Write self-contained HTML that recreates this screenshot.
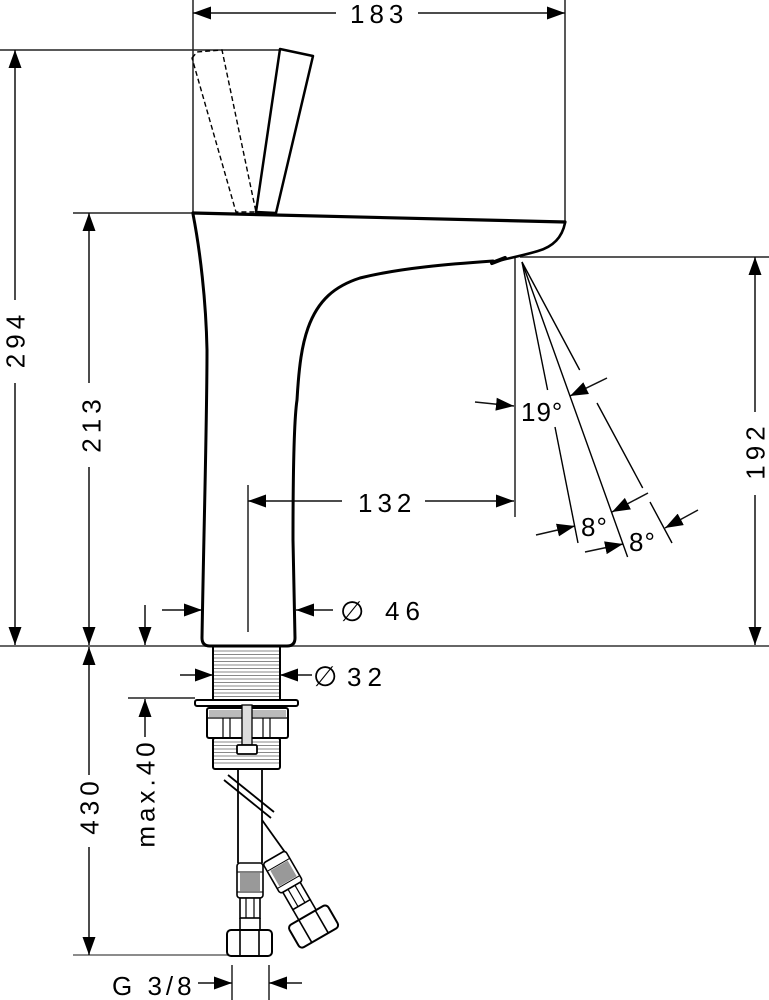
<!DOCTYPE html>
<html><head><meta charset="utf-8"><style>
html,body{margin:0;padding:0;background:#fff;}
svg{display:block;}
text{font-family:"Liberation Sans",sans-serif;font-size:26px;fill:#000;}
</style></head><body>
<svg width="769" height="1000" viewBox="0 0 769 1000" xmlns="http://www.w3.org/2000/svg">
<defs>
<marker id="a" markerWidth="19" markerHeight="14" refX="18" refY="6.5" orient="auto" markerUnits="userSpaceOnUse">
<path d="M0,0 L18,6.5 L0,13 z" fill="#000"/>
</marker>
</defs>

<!-- extension lines -->
<g stroke="#222" stroke-width="1.5" fill="none">
<line x1="193" y1="0" x2="193" y2="213"/>
<line x1="565" y1="0" x2="565" y2="222"/>
<line x1="0" y1="50" x2="282" y2="50"/>
<line x1="73" y1="213" x2="193" y2="213"/>
<line x1="520" y1="257" x2="769" y2="257"/>
<line x1="515" y1="258" x2="515" y2="517"/>
<line x1="128" y1="698" x2="195" y2="698"/>
<line x1="73" y1="955" x2="228" y2="955" stroke="#666"/>
<line x1="232" y1="965" x2="232" y2="1000"/>
<line x1="269" y1="965" x2="269" y2="1000"/>
<line x1="248" y1="485" x2="248" y2="632"/>
</g>
<line x1="0" y1="646" x2="769" y2="646" stroke="#666" stroke-width="2"/>

<!-- dimension lines -->
<g stroke="#111" stroke-width="1.5" fill="none" marker-end="url(#a)">
<line x1="336" y1="13" x2="193" y2="13"/>
<line x1="418" y1="13" x2="565" y2="13"/>
<line x1="15" y1="300" x2="15" y2="50"/>
<line x1="15" y1="383" x2="15" y2="645"/>
<line x1="89" y1="383" x2="89" y2="213"/>
<line x1="89" y1="467" x2="89" y2="645"/>
<line x1="89" y1="775" x2="89" y2="647"/>
<line x1="89" y1="847" x2="89" y2="955"/>
<line x1="755" y1="412" x2="755" y2="257"/>
<line x1="755" y1="495" x2="755" y2="645"/>
<line x1="145" y1="737" x2="145" y2="699"/>
<line x1="145" y1="605" x2="145" y2="645"/>
<line x1="162" y1="610" x2="202" y2="610"/>
<line x1="333" y1="610" x2="296" y2="610"/>
<line x1="180" y1="675" x2="213" y2="675"/>
<line x1="312" y1="675" x2="280" y2="675"/>
<line x1="342" y1="501" x2="248" y2="501"/>
<line x1="425" y1="501" x2="514" y2="501"/>
<line x1="198" y1="983" x2="232" y2="983"/>
<line x1="302" y1="983" x2="269" y2="983"/>
<line x1="475" y1="402" x2="514" y2="406"/>
<line x1="607" y1="378" x2="570" y2="396"/>
<line x1="536" y1="535" x2="575" y2="526"/>
<line x1="648" y1="493" x2="612" y2="512"/>
<line x1="585" y1="552" x2="623" y2="544"/>
<line x1="698" y1="510" x2="665" y2="528"/>
</g>

<!-- spray lines -->
<g stroke="#000" stroke-width="1.4" fill="none">
<line x1="522" y1="262" x2="547.6" y2="390"/>
<line x1="555" y1="427" x2="578" y2="543"/>
<line x1="522" y1="262" x2="627.6" y2="557"/>
<line x1="522" y1="262" x2="579.7" y2="370"/>
<line x1="597" y1="403" x2="642.7" y2="488"/>
<line x1="650" y1="502" x2="672" y2="543"/>
</g>

<!-- lever -->
<polygon points="192,58 197,52 222,50 256,212 236,212" fill="none" stroke="#000" stroke-width="1.4" stroke-dasharray="5,3"/>
<polygon points="280,49 313,56 276,213 256,212" fill="#fff" stroke="#000" stroke-width="2.5" stroke-linejoin="round"/>

<!-- body -->
<g stroke="#000" fill="none" stroke-linecap="round" stroke-linejoin="round">
<path d="M193,213 L565,222" stroke-width="3.2"/>
<path d="M565,223 C562,238 552,247 538,251 C525,255 510,258 493,262" stroke-width="2.6"/>
<path d="M193,214 C200,250 206,300 207,350 C207,420 204,520 202,638 Q202,646 210,646 L287,646 Q295,646 295,638 L293,540 C293,470 294,420 297,400 C299,365 302,345 308,328 C318,300 335,286 360,278 C400,268 450,264 493,261" stroke-width="3"/>
<path d="M492,263 L505,258" stroke-width="4"/>
</g>

<!-- shank with thread -->
<g stroke="#888" stroke-width="1">
<line x1="214" y1="651" x2="279" y2="651"/><line x1="214" y1="654.5" x2="279" y2="654.5"/>
<line x1="214" y1="658" x2="279" y2="658"/><line x1="214" y1="661.5" x2="279" y2="661.5"/>
<line x1="214" y1="665" x2="279" y2="665"/><line x1="214" y1="668.5" x2="279" y2="668.5"/>
<line x1="214" y1="672" x2="279" y2="672"/><line x1="214" y1="675.5" x2="279" y2="675.5"/>
<line x1="214" y1="679" x2="279" y2="679"/><line x1="214" y1="682.5" x2="279" y2="682.5"/>
<line x1="214" y1="686" x2="279" y2="686"/><line x1="214" y1="689.5" x2="279" y2="689.5"/>
<line x1="214" y1="693" x2="279" y2="693"/><line x1="214" y1="696.5" x2="279" y2="696.5"/>
<line x1="214" y1="742" x2="279" y2="742"/><line x1="214" y1="745.5" x2="279" y2="745.5"/>
<line x1="214" y1="749" x2="279" y2="749"/><line x1="214" y1="752.5" x2="279" y2="752.5"/>
<line x1="214" y1="756" x2="279" y2="756"/><line x1="214" y1="759.5" x2="279" y2="759.5"/>
<line x1="214" y1="763" x2="279" y2="763"/>
</g>
<g stroke="#000" stroke-width="2" fill="none">
<line x1="213" y1="647" x2="213" y2="700"/>
<line x1="280" y1="647" x2="280" y2="700"/>
<rect x="213" y="738" width="67" height="31" rx="2"/>
</g>
<rect x="195" y="700" width="103" height="6" rx="2" fill="#fff" stroke="#000" stroke-width="2"/>
<rect x="207" y="708" width="81" height="30" rx="2" fill="#fff" stroke="#000" stroke-width="2"/>
<rect x="209" y="710" width="77" height="7" fill="#bbb"/>
<g stroke="#000" stroke-width="1.2">
<line x1="207" y1="718" x2="288" y2="718"/>
<line x1="223" y1="718" x2="223" y2="738"/><line x1="230" y1="718" x2="230" y2="738"/>
<line x1="263" y1="718" x2="263" y2="738"/><line x1="270" y1="718" x2="270" y2="738"/>
</g>
<rect x="242" y="705" width="10" height="40" fill="#ddd" stroke="#000" stroke-width="1.3"/>
<rect x="237" y="745" width="20" height="9" rx="1.5" fill="#fff" stroke="#000" stroke-width="1.8"/>

<!-- hoses -->
<g stroke="#000" stroke-width="1.8" fill="none">
<line x1="238" y1="769" x2="238" y2="863"/>
<line x1="262" y1="769" x2="262" y2="863"/>
<line x1="224" y1="780" x2="271" y2="818"/>
<line x1="228" y1="775" x2="274" y2="812"/>
<line x1="262" y1="820" x2="287" y2="855"/>
</g>

<!-- left fitting -->
<g transform="translate(250,863)" stroke="#000" fill="#fff">
<rect x="-13" y="0" width="26" height="35" rx="3" stroke-width="1.6"/>
<rect x="-10" y="10" width="20" height="18" fill="#999" stroke="none"/>
<line x1="-13" y1="9" x2="13" y2="9" stroke-width="1"/>
<line x1="-13" y1="29" x2="13" y2="29" stroke-width="1"/>
<rect x="-10" y="35" width="20" height="20" stroke-width="1.6"/>
<line x1="-4" y1="35" x2="-4" y2="55" stroke-width="1.2"/>
<line x1="4" y1="35" x2="4" y2="55" stroke-width="1.2"/>
<line x1="-10" y1="55" x2="-10" y2="67" stroke-width="1.6"/>
<line x1="10" y1="55" x2="10" y2="67" stroke-width="1.6"/>
<rect x="-23" y="67" width="45" height="26" rx="4" stroke-width="2"/>
<line x1="-10" y1="67" x2="-10" y2="93" stroke-width="1.6"/>
<line x1="9" y1="67" x2="9" y2="93" stroke-width="1.6"/>
</g>

<!-- right fitting -->
<g transform="translate(274,857) rotate(-30)" stroke="#000" fill="#fff">
<rect x="-13" y="0" width="26" height="35" rx="3" stroke-width="1.6"/>
<rect x="-10" y="10" width="20" height="18" fill="#999" stroke="none"/>
<line x1="-13" y1="9" x2="13" y2="9" stroke-width="1"/>
<line x1="-13" y1="29" x2="13" y2="29" stroke-width="1"/>
<rect x="-10" y="35" width="20" height="20" stroke-width="1.6"/>
<line x1="-4" y1="35" x2="-4" y2="55" stroke-width="1.2"/>
<line x1="4" y1="35" x2="4" y2="55" stroke-width="1.2"/>
<line x1="-10" y1="55" x2="-10" y2="67" stroke-width="1.6"/>
<line x1="10" y1="55" x2="10" y2="67" stroke-width="1.6"/>
<rect x="-23" y="67" width="45" height="26" rx="4" stroke-width="2"/>
<line x1="-10" y1="67" x2="-10" y2="93" stroke-width="1.6"/>
<line x1="9" y1="67" x2="9" y2="93" stroke-width="1.6"/>
</g>

<!-- labels -->
<text x="350" y="23" letter-spacing="5">183</text>
<text x="17.5" y="351" text-anchor="middle" letter-spacing="5" transform="rotate(-90 15 341.5)">294</text>
<text x="93.5" y="435.5" text-anchor="middle" letter-spacing="5" transform="rotate(-90 91 426)">213</text>
<text x="757.5" y="462.5" text-anchor="middle" letter-spacing="5" transform="rotate(-90 755 453)">192</text>
<text x="91.5" y="817.5" text-anchor="middle" letter-spacing="5" transform="rotate(-90 89 808)">430</text>
<text x="147" y="804.5" text-anchor="middle" letter-spacing="4" transform="rotate(-90 145 795)">max.40</text>
<text x="358" y="512" letter-spacing="5">132</text>
<text x="340" y="621" style="font-family:'DejaVu Sans',sans-serif;font-size:28px">∅</text>
<text x="385" y="620" letter-spacing="6">46</text>
<text x="313" y="686" style="font-family:'DejaVu Sans',sans-serif;font-size:28px">∅</text>
<text x="347" y="686" letter-spacing="6">32</text>
<text x="521" y="421" letter-spacing="1">19°</text>
<text x="581" y="536" letter-spacing="1">8°</text>
<text x="629" y="551" letter-spacing="1">8°</text>
<text x="112" y="995" letter-spacing="4">G 3/8</text>
</svg>
</body></html>
